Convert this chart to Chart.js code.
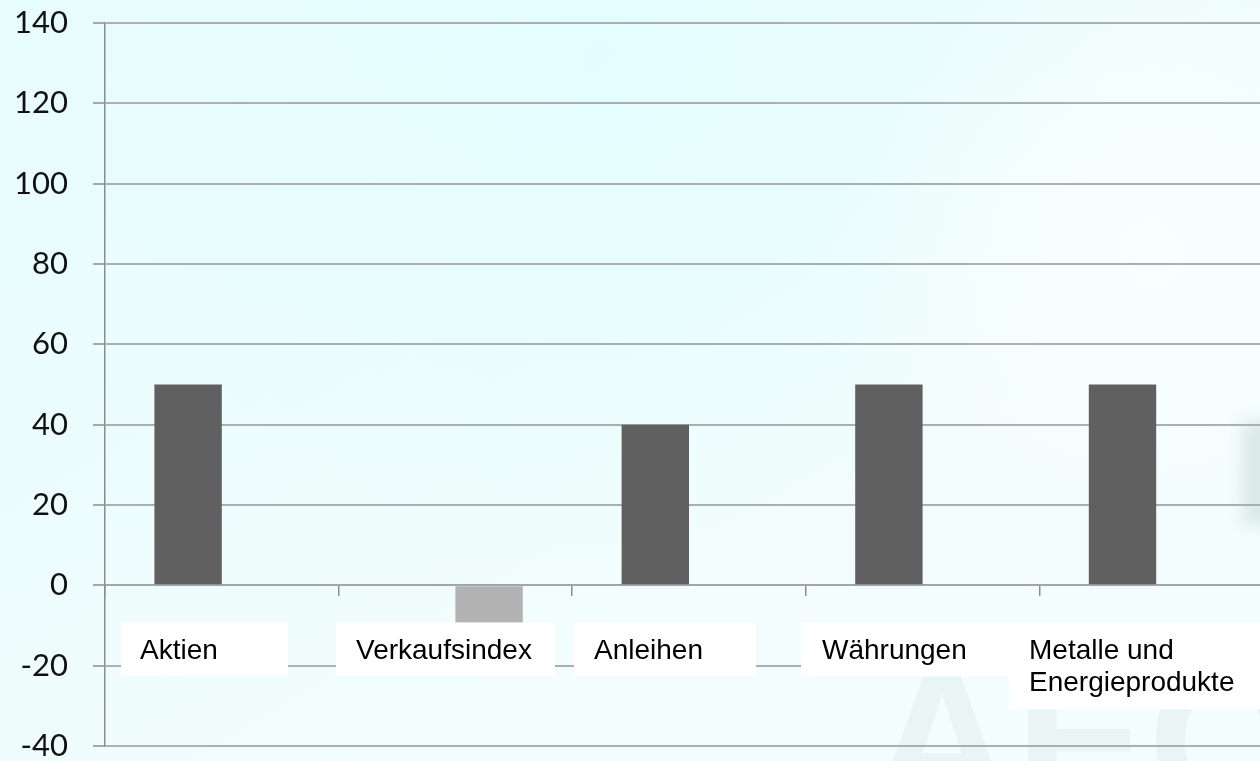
<!DOCTYPE html>
<html>
<head>
<meta charset="utf-8">
<script src="https://cdn.jsdelivr.net/npm/chart.js@4/dist/chart.umd.min.js"></script>
<style>
  html, body { margin: 0; padding: 0; overflow: hidden; width: 1260px; height: 761px; background: #ecfcfc; }
  #wrap { position: absolute; left: 0; top: 0; width: 1273px; height: 761px; }
</style>
</head>
<body>
<div id="wrap"><canvas id="c" width="1273" height="761"></canvas></div>
<script>
// ---- data ----
const categories = ['Aktien', 'Verkaufsindex', 'Anleihen', 'Währungen', 'Metalle und\nEnergieprodukte'];
const seriesMain = [50, null, 40, 50, 50];
const seriesSell = [null, -10, null, null, null];
const yTicks = [-40, -20, 0, 20, 40, 60, 80, 100, 120, 140];

// ---- plugins ----
const bgPlugin = {
  id: 'bg',
  beforeDraw(chart) {
    const ctx = chart.ctx, W = chart.width, H = chart.height;
    ctx.save();
    const g = ctx.createLinearGradient(0, 0, W * 0.35, H);
    g.addColorStop(0, '#e6fcfd');
    g.addColorStop(1, '#f3fdfd');
    ctx.fillStyle = g;
    ctx.fillRect(0, 0, W, H);
    const g2 = ctx.createRadialGradient(600, 60, 10, 600, 60, 520);
    g2.addColorStop(0, 'rgba(222,253,253,0.6)');
    g2.addColorStop(1, 'rgba(222,253,253,0)');
    ctx.fillStyle = g2;
    ctx.fillRect(0, 0, W, H);
    const g3 = ctx.createRadialGradient(1150, 250, 10, 1150, 250, 300);
    g3.addColorStop(0, 'rgba(250,255,255,0.8)');
    g3.addColorStop(1, 'rgba(250,255,255,0)');
    ctx.fillStyle = g3;
    ctx.fillRect(0, 0, W, H);
    // faint watermark
    ctx.fillStyle = 'rgba(150,175,170,0.10)';
    ctx.font = 'bold 200px "Liberation Sans", Arial, sans-serif';
    ctx.textBaseline = 'alphabetic';
    ctx.fillText('AECO', 870, 810);
    ctx.filter = 'blur(8px)';
    ctx.fillStyle = 'rgba(170,200,190,0.35)';
    ctx.fillRect(1242, 420, 40, 105);
    ctx.filter = 'none';
    ctx.restore();
  }
};

const labelPlugin = {
  id: 'catLabels',
  afterDraw(chart, args, opts) {
    const ctx = chart.ctx;
    const xs = chart.scales.x, ys = chart.scales.y;
    const step = xs.getPixelForValue(1) - xs.getPixelForValue(0);
    const y0 = ys.getPixelForValue(0);
    ctx.save();
    ctx.font = '28px "Liberation Sans", Arial, sans-serif';
    ctx.textBaseline = 'alphabetic';
    ctx.textAlign = 'left';
    categories.forEach((lab, i) => {
      const left = xs.getPixelForValue(i) - step / 2;
      const b = opts.boxes[i];
      const lines = lab.split('\n');
      const top = y0 + 37;
      const h = 54 + (lines.length - 1) * 33;
      ctx.fillStyle = '#ffffff';
      ctx.fillRect(left + b[0], top, b[1] - b[0], h);
      ctx.fillStyle = '#000000';
      lines.forEach((ln, k) => ctx.fillText(ln, left + b[2], top + 36.5 + k * 32.5));
    });
    ctx.restore();
  }
};

new Chart(document.getElementById('c'), {
  type: 'bar',
  data: {
    labels: categories,
    datasets: [
      { data: seriesMain, backgroundColor: '#606060', borderWidth: 0 },
      { data: seriesSell, backgroundColor: '#b3b3b3', borderWidth: 0 }
    ]
  },
  options: {
    responsive: false,
    animation: false,
    devicePixelRatio: 1,
    layout: { padding: { top: 23, bottom: 15, left: 0, right: 0 } },
    categoryPercentage: 0.577,
    barPercentage: 1.0,
    plugins: {
      legend: { display: false },
      tooltip: { enabled: false },
      catLabels: {
        // [box left, box right, text left] relative to the category's left edge
        boxes: [[16, 183, 35], [-2.6, 216.4, 17.4], [1.8, 183.8, 21.8], [-4.8, 203.2, 16.2], [-30.4, 260, -10.4]]
      }
    },
    scales: {
      x: {
        type: 'category',
        position: { y: 0 },
        offset: true,
        grid: { offset: true, drawOnChartArea: false, drawTicks: true, tickLength: 10, color: '#8c8c8c', lineWidth: 1.5 },
        border: { display: true, color: '#a2a6a6', width: 2 },
        ticks: { display: false }
      },
      y: {
        min: -40,
        max: 140,
        afterBuildTicks(scale) { scale.ticks = yTicks.map(v => ({ value: v })); },
        afterFit(scale) { scale.width = 105; scale.paddingTop = 0; scale.paddingBottom = 0; },
        grid: { color: '#aab0b0', lineWidth: 2, drawTicks: true, tickLength: 12, tickColor: '#8c8c8c', tickWidth: 1.5 },
        border: { display: true, color: '#8c8c8c', width: 1.5 },
        ticks: {
          padding: 25,
          color: '#111111',
          font: { family: 'Lato, "Open Sans", sans-serif', size: 31, lineHeight: 1 }
        }
      }
    }
  },
  plugins: [bgPlugin, labelPlugin]
});
</script>
</body>
</html>
